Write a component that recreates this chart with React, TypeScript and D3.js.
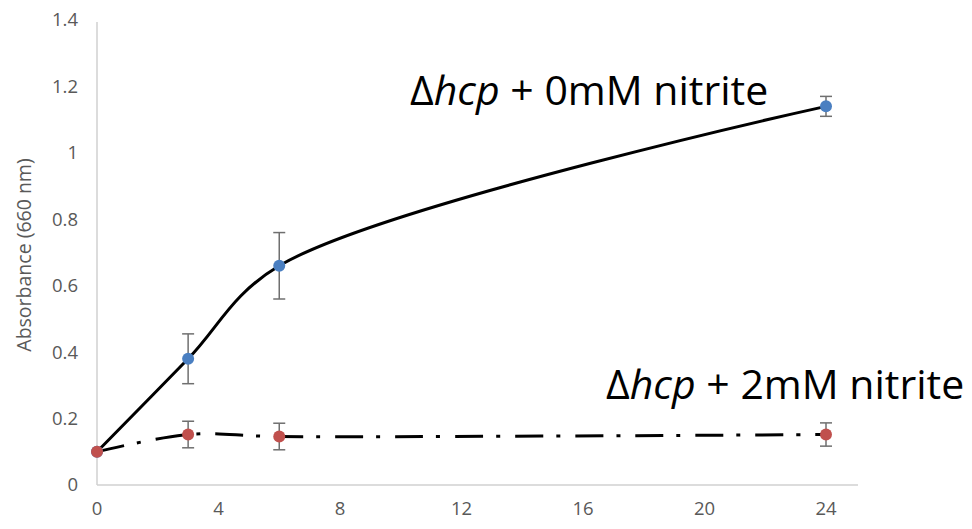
import * as d3 from "d3";

// time (h)
const hours = [0, 3, 6, 24];
const noNitrite = [0.1, 0.38, 0.66, 1.14];
const noNitriteErr = [0, 0.075, 0.1, 0.03];
const withNitrite = [0.1, 0.152, 0.146, 0.152];
const withNitriteErr = [0, 0.04, 0.04, 0.035];
const xTicks = [0, 4, 8, 12, 16, 20, 24];
const yTicks = [0, 0.2, 0.4, 0.6, 0.8, 1, 1.2, 1.4];

const width = 972;
const height = 529;
const marginLeft = 97;
const marginTop = 20;
const marginBottom = 44;

export default function App() {
    const x = d3.scaleLinear([0, 24], [marginLeft, 826]);
    const y = d3.scaleLinear([0, 1.4], [height - marginBottom, marginTop]);
    const line = d3
        .line<number>((d, i) => x(hours[i]), (d) => y(d))
        .curve(d3.curveCatmullRom.alpha(0.5));

    const series = [
        { vals: noNitrite, err: noNitriteErr, color: "#4a7fc1", dash: undefined },
        { vals: withNitrite, err: withNitriteErr, color: "#c0504d", dash: "28 13 4 15" },
    ];

    return (
        <svg
            width={width}
            height={height}
            style={{ position: "fixed", left: 0, top: 0, background: "#fff" }}
            fontFamily="'Open Sans', 'Liberation Sans', sans-serif"
        >
            {/* axes */}
            <line x1={x(0)} x2={x(0)} y1={y(1.4) + 2} y2={y(0)} stroke="#d0d0d0" strokeWidth={1.5} />
            <line x1={x(0)} x2={858} y1={y(0)} y2={y(0)} stroke="#d0d0d0" strokeWidth={1.5} />

            {yTicks.map((t) => (
                <text key={t} x={78} y={y(t)} dy="0.35em" textAnchor="end" fontSize={18.5} fill="#595959">
                    {t}
                </text>
            ))}
            {xTicks.map((t) => (
                <text key={t} x={x(t)} y={515} textAnchor="middle" fontSize={18.5} fill="#595959">
                    {t}
                </text>
            ))}
            <text
                transform={`rotate(-90)`}
                x={-255}
                y={31}
                textAnchor="middle"
                fontSize={19.5}
                fill="#595959"
            >
                Absorbance (660 nm)
            </text>

            {/* lines */}
            {series.map((s, k) => (
                <path
                    key={k}
                    d={line(s.vals) || undefined}
                    fill="none"
                    stroke="#000"
                    strokeWidth={3}
                    strokeDasharray={s.dash}
                />
            ))}

            {/* error bars */}
            {series.map((s, k) => (
                <g key={k} stroke="#6f6f6f" strokeWidth={1.5}>
                    {s.vals.map((v, i) =>
                        s.err[i] > 0 ? (
                            <g key={i}>
                                <line x1={x(hours[i])} x2={x(hours[i])} y1={y(v - s.err[i])} y2={y(v + s.err[i])} />
                                <line x1={x(hours[i]) - 6} x2={x(hours[i]) + 6} y1={y(v - s.err[i])} y2={y(v - s.err[i])} />
                                <line x1={x(hours[i]) - 6} x2={x(hours[i]) + 6} y1={y(v + s.err[i])} y2={y(v + s.err[i])} />
                            </g>
                        ) : null
                    )}
                </g>
            ))}

            {/* markers */}
            {series.map((s, k) => (
                <g key={k} fill={s.color}>
                    {s.vals.map((v, i) => (
                        <circle key={i} cx={x(hours[i])} cy={y(v)} r={6} />
                    ))}
                </g>
            ))}

            {/* labels */}
            <text x={410} y={105} fontSize={41} fill="#000">
                Δ<tspan fontStyle="italic">hcp</tspan> + 0mM nitrite
            </text>
            <text x={606} y={399} fontSize={41} fill="#000">
                Δ<tspan fontStyle="italic">hcp</tspan> + 2mM nitrite
            </text>
        </svg>
    );
}
